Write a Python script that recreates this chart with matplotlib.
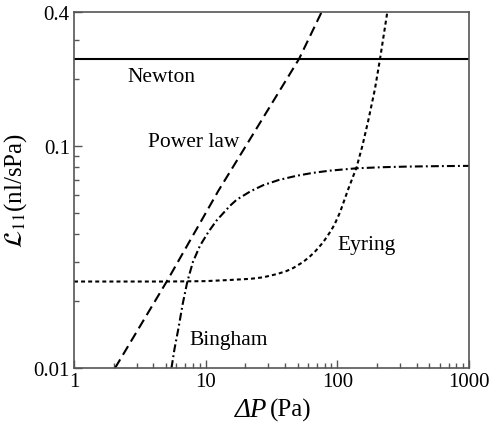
"""Flow conductance L11 vs pressure drop for four rheology models (log-log)."""

import matplotlib
matplotlib.use("Agg")
import matplotlib.pyplot as plt
from matplotlib.ticker import FixedLocator, NullFormatter

plt.rcParams["font.family"] = ["Liberation Serif", "DejaVu Serif"]
plt.rcParams["mathtext.fontset"] = "stix"

# values
NEWTON_L = 0.246

POWER_DP = [2.05, 5.06, 12.5, 21.7, 51.2, 76.0]
POWER_L  = [0.010, 0.0245, 0.0628, 0.107, 0.246, 0.40]

EYRING_DP = [1.0, 5.0, 10.0, 15.3, 22.0, 27.4, 35.0, 41.0, 46.3, 55.0, 62.0,
             67.0, 72.0, 78.0, 83.0, 89.0, 95.0, 104.8, 121.0, 140.0, 155.0,
             171.8, 193.0, 211.0, 239.7]
EYRING_L  = [0.0245, 0.0245, 0.0246, 0.0249, 0.0252, 0.0256, 0.0265, 0.0273,
             0.0282, 0.0300, 0.0318, 0.0332, 0.0348, 0.0368, 0.0388, 0.0413,
             0.0441, 0.0502, 0.0638, 0.080, 0.100, 0.130, 0.180, 0.246, 0.40]

BINGHAM_DP = [5.5, 5.8, 6.2, 6.7, 7.26, 8.0, 9.05, 10.5, 12.1, 15.3, 17.2,
              22.0, 27.4, 36.0, 49.1, 65.0, 88.0, 140.0, 220.0, 337.0, 600.0, 1000.0]
BINGHAM_L  = [0.0100, 0.0122, 0.0150, 0.0195, 0.0245, 0.0300, 0.0355, 0.0410,
              0.0461, 0.0537, 0.0572, 0.0625, 0.0665, 0.0702, 0.0733, 0.0755,
              0.0773, 0.0792, 0.0801, 0.0806, 0.0810, 0.0812]

LABELS = {"Newton": (2.53, 0.206), "Power law": (3.65, 0.105),
          "Eyring": (99.4, 0.0361), "Bingham": (7.47, 0.0135)}

X_TICKS = [1, 10, 100, 1000]
Y_TICKS = [0.01, 0.1, 0.4]
Y_MINOR = [0.02, 0.03, 0.04, 0.05, 0.06, 0.07, 0.08, 0.09, 0.2, 0.3]


def main():
    fig = plt.figure(figsize=(4.94, 4.27), dpi=100)
    ax = fig.add_axes([0.1498, 0.1358, 0.7996, 0.8338])
    ax.set_xscale("log")
    ax.set_yscale("log")

    lw = 1.5
    ax.axhline(NEWTON_L, color="black", lw=lw)
    ax.plot(POWER_DP, POWER_L, color="black", lw=lw, ls=(0, (4.8, 2.6)))
    ax.plot(EYRING_DP, EYRING_L, color="black", lw=lw, ls=(0, (1.9, 1.5)))
    ax.plot(BINGHAM_DP, BINGHAM_L, color="black", lw=lw,
            ls=(0, (3.8, 1.5, 0.9, 1.5)))

    for txt, (x, y) in LABELS.items():
        ax.text(x, y, txt, fontsize=15.5, ha="left", va="center")

    ax.set_xlim(1, 1000)
    ax.set_ylim(0.01, 0.4)
    ax.xaxis.set_major_locator(FixedLocator(X_TICKS))
    ax.set_xticklabels(["1", "10", "100", "1000"])
    ax.yaxis.set_major_locator(FixedLocator(Y_TICKS))
    ax.set_yticklabels(["0.01", "0.1", "0.4"])
    ax.yaxis.set_minor_locator(FixedLocator(Y_MINOR))
    ax.yaxis.set_minor_formatter(NullFormatter())

    ax.tick_params(which="both", direction="in", top=False, right=False,
                   colors="#555555", labelcolor="black", labelsize=15, width=1)
    ax.tick_params(which="major", length=6, pad=3)
    ax.tick_params(which="minor", length=3.5)
    for s in ax.spines.values():
        s.set_color("#555555")
        s.set_linewidth(1.2)

    # x label: italic "ΔP" and upright "(Pa)"
    ax.text(0.49, -0.117, "ΔP", transform=ax.transAxes, fontsize=19.5,
            style="italic", ha="right", va="center")
    ax.text(0.497, -0.117, "(Pa)", transform=ax.transAxes, fontsize=18,
            ha="left", va="center")
    ax.set_ylabel(r"$\mathcal{L}_{11}$(nl/sPa)", fontsize=18, labelpad=3)

    fig.savefig("out.png", dpi=100)


if __name__ == "__main__":
    main()
